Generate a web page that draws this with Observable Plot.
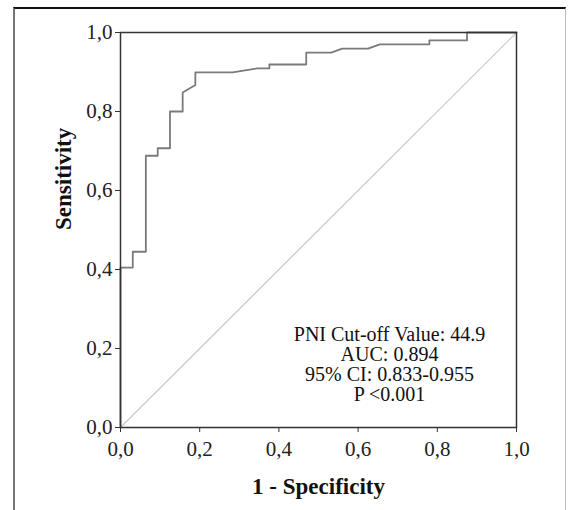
<!DOCTYPE html>
<html>
<head>
<meta charset="utf-8">
<script src="https://cdn.jsdelivr.net/npm/d3@7"></script>
<script src="https://cdn.jsdelivr.net/npm/@observablehq/plot@0.6"></script>
<style>
  html, body { margin: 0; padding: 0; background: #fff; }
  #wrap { position: relative; width: 568px; height: 510px; overflow: hidden; }
  #outer { position: absolute; left: 13px; top: 7px; width: 553px; height: 600px;
           border-left: 2px solid #777; border-top: 2px solid #111; border-right: 1px solid #bbb; box-sizing: border-box; }
  #chart { position: absolute; left: 0; top: 0; }
</style>
</head>
<body>
<div id="wrap"><div id="outer"></div><div id="chart"></div></div>
<script>
// ROC curve points (1 - specificity, sensitivity)
const fpr = [0, 0, 0.031, 0.031, 0.064, 0.064, 0.094, 0.094, 0.125, 0.125, 0.157, 0.157, 0.189, 0.189, 0.283, 0.345, 0.376, 0.376, 0.469, 0.469, 0.532, 0.560, 0.625, 0.655, 0.780, 0.780, 0.875, 0.875, 1.0];
const tpr = [0, 0.405, 0.405, 0.445, 0.445, 0.688, 0.688, 0.707, 0.707, 0.800, 0.800, 0.848, 0.867, 0.899, 0.899, 0.909, 0.909, 0.919, 0.919, 0.949, 0.949, 0.959, 0.959, 0.970, 0.970, 0.980, 0.980, 1.0, 1.0];
// Reference (chance) diagonal
const diagX = [0, 1];
const diagY = [0, 1];
const tickValues = [0, 0.2, 0.4, 0.6, 0.8, 1.0];
const xTitle = "1 - Specificity";
const yTitle = "Sensitivity";
const annotationLines = ["PNI Cut-off Value: 44.9", "AUC: 0.894", "95% CI: 0.833-0.955", "P <0.001"];

const roc = fpr.map((x, i) => ({x, y: tpr[i]}));
const diag = diagX.map((x, i) => ({x, y: diagY[i]}));
const fmt = d => d.toFixed(1).replace(".", ",");
const serif = "'Liberation Serif', 'Times New Roman', serif";

const chart = Plot.plot({
  width: 568,
  height: 510,
  marginLeft: 120,
  marginRight: 52,
  marginTop: 32,
  marginBottom: 83,
  style: { fontFamily: serif, fontSize: "20px", color: "#222", background: "transparent" },
  x: { domain: [0, 1], label: null },
  y: { domain: [0, 1], label: null },
  marks: [
    Plot.line(diag, { x: "x", y: "y", stroke: "#c8c8c8", strokeWidth: 1.2 }),
    Plot.line(roc, { x: "x", y: "y", stroke: "#7a7a7a", strokeWidth: 1.8 }),
    Plot.frame({ stroke: "#333", strokeWidth: 1.5 }),
    Plot.axisX({ ticks: tickValues, tickFormat: fmt, tickSize: 5, tickPadding: 9, label: null, stroke: "#333", fontSize: 21 }),
    Plot.axisY({ ticks: tickValues, tickFormat: fmt, tickSize: 5, tickPadding: 3, label: null, stroke: "#333", fontSize: 21 }),
    Plot.text([xTitle], { frameAnchor: "bottom", dy: 66, fontWeight: "bold", fontSize: 23, fill: "#111" }),
    Plot.text([yTitle], { frameAnchor: "left", dx: -57, rotate: -90, fontWeight: "bold", fontSize: 23, fill: "#111" }),
    Plot.text([annotationLines.join("\n")], { frameAnchor: "bottom", dx: 71, dy: -27, lineAnchor: "bottom", lineHeight: 1.0, fontSize: 20, fill: "#111" })
  ]
});
document.getElementById("chart").appendChild(chart);
</script>
</body>
</html>
